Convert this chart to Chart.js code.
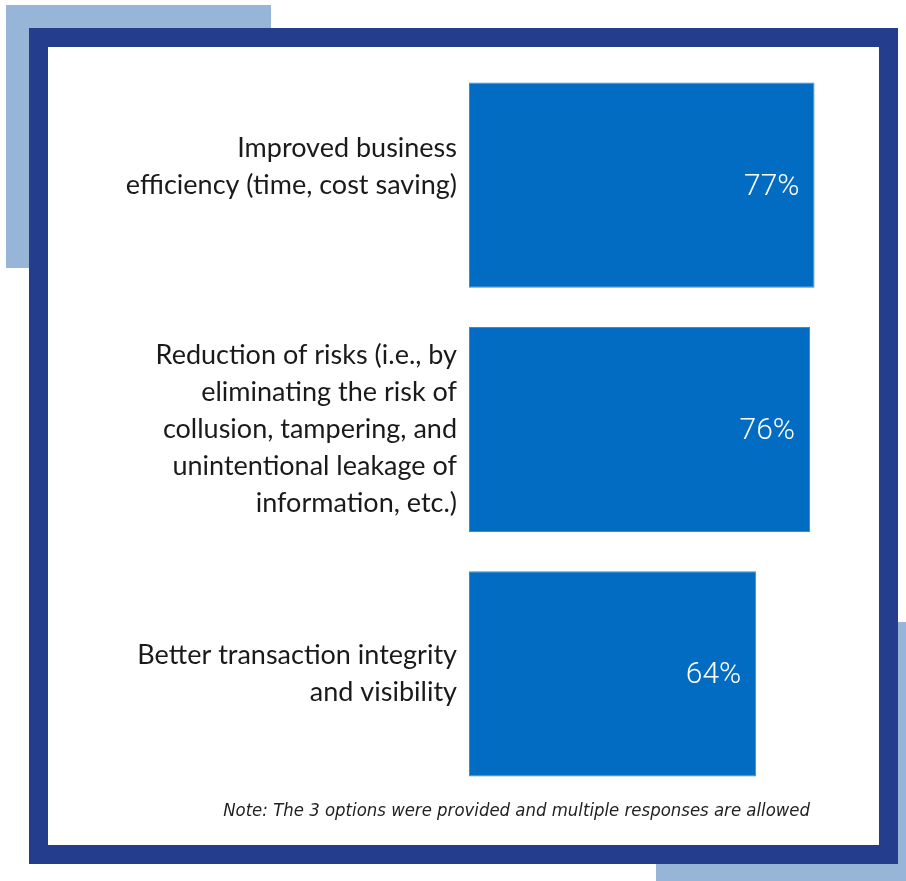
<!DOCTYPE html>
<html>
<head>
<meta charset="utf-8">
<script src="https://cdn.jsdelivr.net/npm/chart.js@4.4.1/dist/chart.umd.min.js"></script>
<style>
  html, body { margin: 0; padding: 0; background: #fff; }
  body { width: 906px; height: 881px; position: relative; overflow: hidden; }
  .deco { position: absolute; background: #97b5d6; }
  #frame { position: absolute; left: 29px; top: 28px; width: 831px; height: 798px;
           border: 19px solid #243d8c; background: #fff; }
  #chartBox { position: absolute; left: 48px; top: 47px; width: 831px; height: 798px; }
  #note { position: absolute; right: 96px; top: 799px; font-family: "Liberation Sans Narrow", "DejaVu Sans Condensed", sans-serif;
          font-style: italic; font-size: 18.4px; color: #222; white-space: nowrap; }
</style>
</head>
<body>
<div class="deco" style="left:6px;top:5px;width:265px;height:263px;"></div>
<div class="deco" style="left:656px;top:622px;width:250px;height:259px;"></div>
<div id="frame"></div>
<div id="chartBox"><canvas id="benefitChart"></canvas></div>
<div id="note">Note: The 3 options were provided and multiple responses are allowed</div>

<script>
// chart data
const categories = [
    ['Improved business', 'efficiency (time, cost saving)', ''],
    ['Reduction of risks (i.e., by', 'eliminating the risk of', 'collusion, tampering, and', 'unintentional leakage of', 'information, etc.)'],
    ['Better transaction integrity', 'and visibility']
];
const shares = [77, 76, 64];
const valueLabels = ['77%', '76%', '64%'];

// white % text inside the bar ends
const barValuePlugin = {
    id: 'barValues',
    afterDatasetsDraw(chart) {
        const ctx = chart.ctx;
        const meta = chart.getDatasetMeta(0);
        ctx.save();
        ctx.fillStyle = '#ffffff';
        ctx.font = '300 30px Roboto, "Open Sans", sans-serif';
        ctx.textAlign = 'right';
        ctx.textBaseline = 'middle';
        meta.data.forEach((bar, i) => {
            ctx.fillText(valueLabels[i], bar.x - 15, bar.y + 2);
        });
        ctx.restore();
    }
};

new Chart(document.getElementById('benefitChart'), {
    type: 'bar',
    data: {
        labels: categories,
        datasets: [{
            data: shares,
            backgroundColor: '#016cc1',
            borderColor: '#3a8ad3',
            borderWidth: 1,
            borderSkipped: false,
            categoryPercentage: 0.84,
            barPercentage: 1.0
        }]
    },
    options: {
        indexAxis: 'y',
        responsive: true,
        maintainAspectRatio: false,
        animation: false,
        layout: { padding: { top: 16, bottom: 49, right: 51, left: 0 } },
        plugins: {
            legend: { display: false },
            tooltip: { enabled: false }
        },
        scales: {
            x: {
                min: 0, max: 80,
                display: false,
                grid: { display: false }
            },
            y: {
                grid: { display: false, drawTicks: false },
                border: { display: false },
                afterFit(scale) {
                    scale.width = 421;
                    scale.paddingTop = 0;
                    scale.paddingBottom = 0;
                },
                ticks: {
                    color: '#1a1a1a',
                    padding: 12,
                    font: { family: 'Lato, "Open Sans", sans-serif', size: 27, lineHeight: 1.37 }
                }
            }
        }
    },
    plugins: [barValuePlugin]
});
</script>
</body>
</html>
